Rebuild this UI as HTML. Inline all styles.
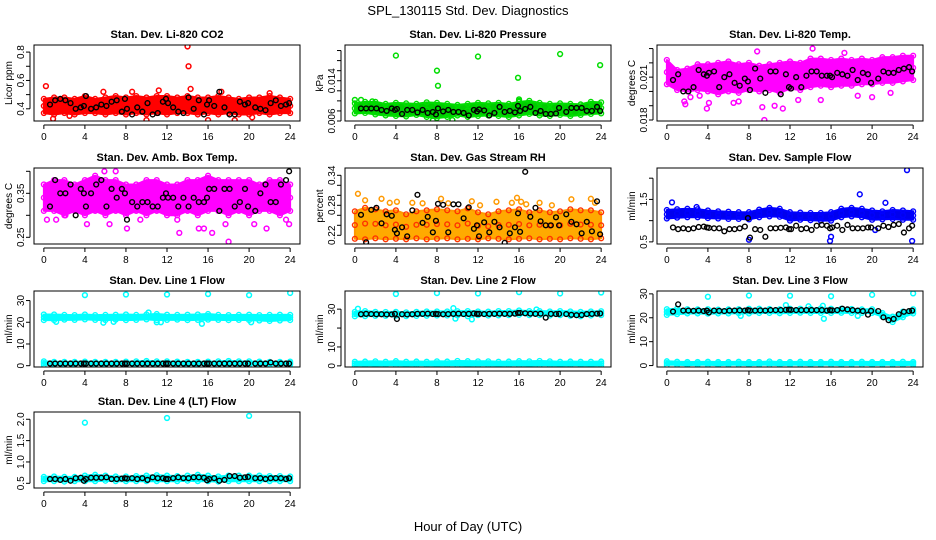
<!DOCTYPE html>
<html><head><meta charset="utf-8">
<style>
html,body{margin:0;padding:0;background:#fff;}
svg{display:block;font-family:"Liberation Sans",sans-serif;}
</style></head>
<body>
<svg id="chart" width="936" height="540" viewBox="0 0 936 540">
<text x="468" y="15" text-anchor="middle" font-size="13">SPL_130115  Std. Dev. Diagnostics</text>
<text x="468" y="531" text-anchor="middle" font-size="13">Hour of Day (UTC)</text>
</svg>
<script>
// ---- shared categories ----
const bandHours = [0,1,2,3,4,5,6,7,8,9,10,11,12,13,14,15,16,17,18,19,20,21,22,23,24];
const blackHours = [0.6,1.1,1.6,2.1,2.6,3.1,3.6,3.9,4.1,4.6,5.1,5.6,6.1,6.6,7.1,7.6,7.9,8.1,8.6,9.1,9.6,10.1,10.6,11.1,11.6,11.9,12.1,12.6,13.1,13.6,14.1,14.6,15.1,15.6,15.9,16.1,16.6,17.1,17.6,18.1,18.6,19.1,19.6,19.9,20.6,21.1,21.6,22.1,22.6,23.1,23.6,23.9];
const xTicks = [0,4,8,12,16,20,24];

// ---- P1 CO2 ----
const p1Lo = [0.37,0.36,0.37,0.36,0.37,0.37,0.36,0.37,0.36,0.37,0.36,0.37,0.36,0.37,0.37,0.36,0.37,0.36,0.37,0.36,0.36,0.37,0.36,0.37,0.37];
const p1Hi = [0.47,0.48,0.48,0.47,0.49,0.47,0.48,0.49,0.48,0.49,0.48,0.49,0.49,0.48,0.49,0.48,0.48,0.49,0.48,0.47,0.48,0.48,0.49,0.48,0.47];
const p1OutH = [0.2,0.9,14.0,14.1,14.3,11.2,8.6,16.0,18.6,10.0,5.8,17.3,22.0,2.5,20.3];
const p1OutV = [0.56,0.33,0.84,0.70,0.54,0.53,0.52,0.32,0.32,0.32,0.52,0.52,0.51,0.35,0.34];
const p1Black = [0.43,0.46,0.47,0.46,0.44,0.40,0.41,0.42,0.49,0.40,0.41,0.43,0.42,0.45,0.46,0.38,0.47,0.40,0.36,0.41,0.38,0.44,0.36,0.37,0.45,0.47,0.44,0.41,0.38,0.37,0.48,0.40,0.46,0.36,0.43,0.46,0.42,0.52,0.41,0.36,0.36,0.45,0.43,0.44,0.41,0.40,0.39,0.44,0.46,0.42,0.43,0.44];

// ---- P2 Pressure ----
const p2Lo = [0.0075,0.0076,0.0073,0.0071,0.0070,0.0069,0.0072,0.0068,0.0066,0.0068,0.0071,0.0068,0.0070,0.0071,0.0070,0.0068,0.0071,0.0074,0.0071,0.0070,0.0072,0.0070,0.0072,0.0074,0.0075];
const p2Hi = [0.0095,0.0098,0.0098,0.0094,0.0096,0.0095,0.0094,0.0097,0.0096,0.0094,0.0092,0.0094,0.0096,0.0095,0.0096,0.0094,0.0098,0.0100,0.0096,0.0094,0.0095,0.0094,0.0093,0.0098,0.0097];
const p2OutH = [0.0,0.6,4.0,8.0,8.1,12.0,15.9,16.0,20.0,23.9,7.6,9.5,16.0,1.7];
const p2OutV = [0.0102,0.0102,0.0190,0.0160,0.0130,0.0188,0.0146,0.0103,0.0193,0.0171,0.0061,0.0062,0.0100,0.0099];
const p2Black = [0.0085,0.0085,0.0085,0.0085,0.0082,0.0080,0.0085,0.0082,0.0084,0.0074,0.0082,0.0082,0.0077,0.0082,0.0076,0.0078,0.0073,0.0085,0.0079,0.0082,0.0078,0.0078,0.0076,0.0071,0.0082,0.0079,0.0083,0.0081,0.0071,0.0076,0.0088,0.0078,0.0080,0.0077,0.0090,0.0080,0.0084,0.0088,0.0076,0.0080,0.0074,0.0074,0.0075,0.0086,0.0078,0.0086,0.0086,0.0086,0.0080,0.0080,0.0088,0.0080];

// ---- P3 Li-820 Temp ----
const p3Lo = [0.0205,0.0201,0.0200,0.0201,0.0200,0.0198,0.0200,0.0199,0.0201,0.0200,0.0201,0.0199,0.0202,0.0201,0.0203,0.0204,0.0203,0.0204,0.0204,0.0205,0.0205,0.0206,0.0206,0.0207,0.0208];
const p3Hi = [0.0222,0.0215,0.0216,0.0219,0.0219,0.0220,0.0221,0.0219,0.0220,0.0218,0.0219,0.0220,0.0221,0.0220,0.0223,0.0223,0.0222,0.0223,0.0222,0.0223,0.0222,0.0224,0.0224,0.0225,0.0225];
const p3OutH = [1.7,1.8,3.9,4.1,7.0,9.5,9.3,11.3,8.8,14.2,17.3,2.3,6.5,10.5,12.8,18.6,21.8,20.0,3.2,15.0];
const p3OutV = [0.0193,0.0191,0.0188,0.0192,0.0193,0.0180,0.0189,0.0188,0.0228,0.0230,0.0227,0.0196,0.0192,0.0190,0.0194,0.0197,0.0199,0.0196,0.0197,0.0194];
const p3Black = [0.0208,0.0212,0.0200,0.0200,0.0203,0.0215,0.0212,0.0211,0.0213,0.0214,0.0203,0.0210,0.0212,0.0206,0.0204,0.0209,0.0207,0.0201,0.0216,0.0209,0.0199,0.0214,0.0214,0.0198,0.0212,0.0203,0.0202,0.0210,0.0203,0.0211,0.0214,0.0214,0.0211,0.0211,0.0211,0.0210,0.0213,0.0212,0.0211,0.0215,0.0208,0.0213,0.0212,0.0206,0.0209,0.0214,0.0213,0.0213,0.0215,0.0216,0.0217,0.0214];

// ---- P4 Amb Box Temp ----
const p4Lo = [0.31,0.31,0.30,0.31,0.30,0.31,0.30,0.31,0.30,0.31,0.30,0.31,0.30,0.30,0.31,0.30,0.31,0.31,0.30,0.31,0.30,0.31,0.31,0.30,0.31];
const p4Hi = [0.37,0.38,0.38,0.37,0.38,0.39,0.38,0.38,0.37,0.37,0.38,0.38,0.37,0.37,0.38,0.38,0.39,0.38,0.38,0.38,0.38,0.37,0.38,0.38,0.37];
const p4OutH = [0.3,1.2,2.1,4.2,6.4,8.1,9.4,13.2,15.1,15.6,16.4,18.0,17.7,20.5,21.7,23.6,23.9,5.9,7.0,13.0];
const p4OutV = [0.29,0.29,0.30,0.28,0.28,0.27,0.29,0.26,0.27,0.27,0.26,0.24,0.28,0.28,0.27,0.29,0.28,0.40,0.40,0.29];
const p4Black = [0.32,0.38,0.35,0.35,0.37,0.30,0.36,0.35,0.32,0.35,0.37,0.38,0.32,0.36,0.34,0.36,0.35,0.29,0.33,0.32,0.33,0.33,0.32,0.32,0.34,0.35,0.34,0.34,0.32,0.34,0.32,0.34,0.33,0.33,0.34,0.36,0.36,0.31,0.36,0.36,0.32,0.33,0.36,0.32,0.31,0.35,0.37,0.33,0.33,0.37,0.38,0.40];

// ---- P5 Gas Stream RH ----
const p5Lo = [0.213,0.212,0.214,0.212,0.213,0.212,0.214,0.212,0.213,0.214,0.212,0.213,0.212,0.214,0.213,0.212,0.213,0.214,0.212,0.213,0.212,0.214,0.213,0.212,0.214];
const p5Hi = [0.268,0.275,0.272,0.268,0.270,0.262,0.268,0.270,0.272,0.270,0.268,0.274,0.266,0.262,0.268,0.270,0.272,0.266,0.270,0.266,0.268,0.272,0.270,0.270,0.266];
const p5OutH = [0.3,1.0,2.6,3.4,4.1,5.6,6.6,8.4,9.1,11.4,12.2,13.8,15.3,15.8,16.2,16.7,18.0,19.2,21.1,23.0,23.4];
const p5OutV = [0.303,0.290,0.293,0.285,0.287,0.285,0.284,0.293,0.284,0.288,0.280,0.287,0.285,0.295,0.287,0.282,0.285,0.280,0.292,0.293,0.285];
const p5Black = [0.261,0.206,0.271,0.275,0.244,0.262,0.259,0.231,0.224,0.236,0.218,0.270,0.301,0.245,0.257,0.226,0.249,0.283,0.281,0.226,0.282,0.282,0.254,0.276,0.233,0.240,0.218,0.246,0.226,0.247,0.236,0.205,0.224,0.236,0.264,0.227,0.347,0.257,0.275,0.248,0.240,0.240,0.256,0.240,0.262,0.247,0.242,0.224,0.247,0.228,0.288,0.222];

// ---- P6 Sample Flow ----
const p6Lo = [1.05,1.07,1.08,1.08,1.06,1.05,1.04,1.04,1.03,1.08,1.10,1.09,1.00,1.02,1.01,1.00,1.00,1.08,1.10,1.08,1.02,1.03,1.04,1.02,1.02];
const p6Hi = [1.25,1.27,1.28,1.27,1.24,1.22,1.21,1.20,1.20,1.26,1.30,1.28,1.20,1.19,1.18,1.18,1.20,1.28,1.30,1.28,1.24,1.22,1.25,1.24,1.22];
const p6OutH = [0.5,8.0,15.9,18.8,23.4,23.9,21.3,16.0,20.3,2.9];
const p6OutV = [1.43,0.55,0.52,1.62,2.19,0.52,1.42,0.62,0.78,1.32];
const p6Black = [0.84,0.80,0.82,0.80,0.82,0.85,0.86,0.84,0.83,0.82,0.82,0.75,0.80,0.80,0.82,0.86,1.06,0.60,0.80,0.78,0.62,0.82,0.82,0.83,0.84,0.80,0.80,0.88,0.80,0.82,0.78,0.88,0.90,0.88,0.82,0.84,0.88,0.78,0.90,0.82,0.82,0.82,0.84,0.84,0.82,0.88,0.85,0.90,0.92,0.72,0.82,0.88];

// ---- P7 Line 1 Flow ----
const p7Lo = [21.0,21.0,21.2,21.1,21.3,21.1,21.0,21.2,21.0,21.1,21.3,21.0,21.1,21.2,21.0,21.1,21.2,21.1,21.0,21.1,21.0,20.8,20.6,20.8,21.0];
const p7Hi = [23.6,23.6,23.4,23.3,23.6,23.3,23.4,23.5,23.6,23.4,23.6,23.8,23.5,23.4,23.5,23.6,23.8,23.4,23.3,23.4,23.5,23.3,23.4,23.5,23.4];
const p7Lo2 = [0.4,0.5,0.4,0.5,0.5,0.4,0.5,0.5,0.4,0.5,0.5,0.4,0.5,0.5,0.4,0.5,0.5,0.4,0.5,0.5,0.4,0.5,0.5,0.4,0.5];
const p7Hi2 = [2.0,1.8,1.8,1.8,1.9,1.8,1.8,1.8,1.9,2.0,2.2,2.0,2.0,1.9,1.8,1.8,1.9,2.0,2.2,2.0,2.0,1.9,1.8,1.8,1.9];
const p7OutH = [4.0,8.0,12.0,16.0,20.0,24.0,1.2,5.8,6.8,11.0,11.4,15.4,10.2,20.2];
const p7OutV = [32.5,32.8,32.8,33.0,32.5,33.5,20.2,19.8,20.2,20.0,20.0,19.3,24.5,20.0];
const p7Black = [1.0,1.0,1.0,1.0,1.0,1.0,1.0,1.0,1.0,1.0,1.0,1.0,1.0,1.0,1.0,1.0,1.0,1.0,1.0,1.0,1.0,1.0,1.0,1.0,1.0,1.0,1.0,1.0,1.0,1.0,1.0,1.0,1.0,1.0,1.0,1.0,1.0,1.0,1.0,1.0,1.0,1.0,1.0,1.0,1.0,1.0,1.0,1.5,1.0,1.0,1.0,1.0];

// ---- P8 Line 2 Flow ----
const p8Lo = [26.2,26.3,26.4,26.4,26.5,26.3,26.4,26.5,26.6,26.6,26.7,26.2,26.8,26.6,26.7,26.8,27.0,26.8,26.8,26.6,26.8,26.5,26.2,26.6,26.8];
const p8Hi = [28.6,29.0,28.6,28.5,28.6,28.3,28.6,28.8,28.8,28.8,28.9,29.0,28.8,28.7,29.0,29.0,29.3,29.0,29.0,28.8,29.0,28.8,28.6,28.8,28.9];
const p8Lo2 = [0.2,0.3,0.2,0.3,0.3,0.2,0.3,0.3,0.2,0.3,0.3,0.2,0.3,0.3,0.2,0.3,0.3,0.2,0.3,0.3,0.2,0.3,0.3,0.2,0.3];
const p8Hi2 = [2.2,2.3,2.4,2.2,2.5,2.2,2.3,2.2,2.4,2.3,2.6,2.5,2.4,2.4,2.2,2.3,2.5,2.4,2.6,2.4,2.2,2.3,2.2,2.2,2.3];
const p8OutH = [4.0,8.0,12.0,16.0,20.0,24.0,0.3,9.6,9.8,11.4,17.7];
const p8OutV = [38.0,38.5,38.3,39.0,38.3,38.8,30.2,30.5,25.0,24.6,29.8];
const p8Black = [27.3,27.5,27.4,27.3,27.3,27.2,27.2,27.5,24.8,27.3,27.2,27.3,27.5,27.5,27.6,27.4,27.5,27.4,27.3,27.4,27.5,27.6,27.4,27.5,27.7,27.5,27.5,27.4,27.5,27.5,27.6,27.5,27.5,27.6,28.0,28.0,27.8,27.6,27.5,27.6,25.5,27.5,27.4,27.5,27.4,27.0,26.8,26.9,27.4,27.5,27.6,27.7];

// ---- P9 Line 3 Flow ----
const p9Lo = [21.2,21.5,21.8,21.8,21.7,21.8,21.8,21.9,21.8,22.0,22.0,21.9,22.0,22.1,22.0,22.0,22.0,22.1,22.0,22.0,22.0,20.5,18.2,20.2,21.8];
const p9Hi = [23.6,23.8,23.6,23.5,23.6,23.4,23.5,23.6,23.8,23.8,23.7,23.6,23.8,23.8,23.8,23.9,23.8,23.8,23.7,23.5,23.6,22.0,20.5,22.6,23.6];
const p9Lo2 = [0.3,0.3,0.2,0.3,0.3,0.2,0.3,0.3,0.2,0.3,0.3,0.2,0.3,0.3,0.2,0.3,0.3,0.2,0.3,0.3,0.2,0.3,0.3,0.2,0.3];
const p9Hi2 = [1.8,1.6,1.5,1.5,1.6,1.5,1.5,1.6,1.5,1.5,1.7,1.5,1.5,1.6,1.5,1.5,1.6,1.5,1.5,1.6,1.5,1.5,1.5,1.6,1.5];
const p9OutH = [4.0,8.0,12.0,16.0,20.0,24.0,7.2,11.6,15.2,15.3,18.6,13.8];
const p9OutV = [28.8,29.3,29.2,29.0,29.6,30.2,20.8,25.3,25.0,19.6,20.8,24.8];
const p9Black = [22.6,25.6,23.0,23.0,22.9,23.0,22.8,23.0,22.2,23.0,22.9,22.8,23.0,23.0,23.1,23.0,23.2,23.0,23.0,23.1,23.0,23.2,23.2,23.2,23.3,23.4,23.3,23.2,23.2,23.2,23.2,23.2,23.2,23.0,23.2,23.1,23.2,23.8,23.5,23.2,23.0,22.8,21.3,22.9,22.8,20.2,19.0,19.5,21.5,22.5,22.8,23.0];

// ---- P10 Line 4 (LT) Flow ----
const p10Lo = [0.55,0.55,0.54,0.55,0.55,0.55,0.56,0.55,0.55,0.55,0.55,0.55,0.55,0.55,0.56,0.55,0.55,0.54,0.55,0.55,0.55,0.55,0.55,0.55,0.55];
const p10Hi = [0.65,0.66,0.65,0.65,0.68,0.70,0.68,0.66,0.66,0.67,0.68,0.69,0.68,0.67,0.68,0.70,0.68,0.66,0.68,0.68,0.68,0.68,0.67,0.67,0.66];
const p10OutH = [4.0,12.0,20.0];
const p10OutV = [1.92,2.03,2.08];
const p10Black = [0.60,0.60,0.58,0.60,0.56,0.62,0.63,0.56,0.60,0.63,0.63,0.63,0.64,0.60,0.60,0.61,0.62,0.61,0.62,0.60,0.62,0.58,0.64,0.62,0.62,0.60,0.60,0.62,0.64,0.62,0.62,0.64,0.64,0.63,0.57,0.60,0.62,0.56,0.58,0.67,0.67,0.63,0.64,0.65,0.62,0.62,0.60,0.62,0.62,0.62,0.60,0.62];

const cols = [34,345,657], colW = 266;
const rows = [45,168,291,412], rowH = 76;
const panels = [
 {key:'co2',title:'Stan. Dev. Li-820 CO2',ylab:'Licor ppm',c:0,r:0,y0:0.314,y1:0.85,ticks:[0.4,0.5,0.6,0.7,0.8],lab:{0.4:'0.4',0.6:'0.6',0.8:'0.8'},col:'#ff0000',fill:'#ff0000',dot:'#ff0000',lo:p1Lo,hi:p1Hi,oh:p1OutH,ov:p1OutV,bk:p1Black},
 {key:'pressure',title:'Stan. Dev. Li-820 Pressure',ylab:'kPa',c:1,r:0,y0:0.006,y1:0.0211,ticks:[0.006,0.008,0.010,0.012,0.014,0.016,0.018,0.020],lab:{0.006:'0.006',0.014:'0.014'},col:'#00dd00',fill:'#00cc00',dot:'#00dd00',lo:p2Lo,hi:p2Hi,oh:p2OutH,ov:p2OutV,bk:p2Black},
 {key:'temp',title:'Stan. Dev. Li-820 Temp.',ylab:'degrees C',c:2,r:0,y0:0.01793,y1:0.02325,ticks:[0.018,0.019,0.020,0.021,0.022,0.023],lab:{0.018:'0.018',0.021:'0.021'},col:'#ff00ff',fill:'#ff00ff',dot:'#ff00ff',lo:p3Lo,hi:p3Hi,oh:p3OutH,ov:p3OutV,bk:p3Black},
 {key:'ambbox',title:'Stan. Dev. Amb. Box Temp.',ylab:'degrees C',c:0,r:1,y0:0.2348,y1:0.4075,ticks:[0.25,0.30,0.35,0.40],lab:{0.25:'0.25',0.35:'0.35'},col:'#ff00ff',fill:'#ff00ff',dot:'#ff00ff',lo:p4Lo,hi:p4Hi,oh:p4OutH,ov:p4OutV,bk:p4Black},
 {key:'rh',title:'Stan. Dev. Gas Stream RH',ylab:'percent',c:1,r:1,y0:0.2026,y1:0.3546,ticks:[0.22,0.24,0.26,0.28,0.30,0.32,0.34],lab:{0.22:'0.22',0.28:'0.28',0.34:'0.34'},col:'#ff9900',fill:'#ffaa00',dot:'#ff3300',lo:p5Lo,hi:p5Hi,oh:p5OutH,ov:p5OutV,bk:p5Black},
 {key:'sampleflow',title:'Stan. Dev. Sample Flow',ylab:'ml/min',c:2,r:1,y0:0.45,y1:2.24,ticks:[0.5,1.0,1.5,2.0],lab:{0.5:'0.5',1.5:'1.5'},col:'#0000ff',fill:'#0000ee',dot:'#0000ff',lo:p6Lo,hi:p6Hi,oh:p6OutH,ov:p6OutV,bk:p6Black},
 {key:'line1',title:'Stan. Dev. Line 1 Flow',ylab:'ml/min',c:0,r:2,y0:-0.6,y1:34.4,ticks:[0,10,20,30],lab:{0:'0',10:'10',20:'20',30:'30'},col:'#00ffff',fill:'#00ffff',dot:'#00ffff',lo:p7Lo,hi:p7Hi,lo2:p7Lo2,hi2:p7Hi2,oh:p7OutH,ov:p7OutV,bk:p7Black},
 {key:'line2',title:'Stan. Dev. Line 2 Flow',ylab:'ml/min',c:1,r:2,y0:-0.6,y1:39.6,ticks:[0,10,20,30],lab:{0:'0',10:'10',30:'30'},col:'#00ffff',fill:'#00ffff',dot:'#00ffff',lo:p8Lo,hi:p8Hi,lo2:p8Lo2,hi2:p8Hi2,oh:p8OutH,ov:p8OutV,bk:p8Black},
 {key:'line3',title:'Stan. Dev. Line 3 Flow',ylab:'ml/min',c:2,r:2,y0:-0.6,y1:31.2,ticks:[0,10,20,30],lab:{0:'0',10:'10',20:'20',30:'30'},col:'#00ffff',fill:'#00ffff',dot:'#00ffff',lo:p9Lo,hi:p9Hi,lo2:p9Lo2,hi2:p9Hi2,oh:p9OutH,ov:p9OutV,bk:p9Black},
 {key:'line4',title:'Stan. Dev. Line 4 (LT) Flow',ylab:'ml/min',c:0,r:3,y0:0.39,y1:2.17,ticks:[0.5,1.0,1.5,2.0],lab:{0.5:'0.5',1:'1.0',1.5:'1.5',2:'2.0'},col:'#00ffff',fill:'#00ffff',dot:'#00ffff',lo:p10Lo,hi:p10Hi,oh:p10OutH,ov:p10OutV,bk:p10Black}
];

const NS='http://www.w3.org/2000/svg';
const svg=document.getElementById('chart');
function mk(tag,attrs,parent){const e=document.createElementNS(NS,tag);for(const k in attrs)e.setAttribute(k,attrs[k]);(parent||svg).appendChild(e);return e;}

panels.forEach(p=>{
  const L=cols[p.c], T=rows[p.r], R=L+colW, B=T+rowH;
  const xs=h=>L+(h+0.96)/25.92*colW;
  const ys=v=>B-(v-p.y0)/(p.y1-p.y0)*rowH;
  const g=mk('g',{});
  
  
  const clip=mk('clipPath',{id:'clip-'+p.key},g);
  mk('rect',{x:L,y:T,width:colW,height:rowH},clip);
  const t=mk('text',{x:(L+R)/2,y:T-7,'text-anchor':'middle','font-size':11,'font-weight':'bold'},g);
  t.textContent=p.title;
  
  
  const yl=mk('text',{x:0,y:0,'text-anchor':'middle','font-size':10,transform:`translate(${L-22},${(T+B)/2}) rotate(-90)`},g);
  yl.textContent=p.ylab;
  
  
  const plot=mk('g',{'clip-path':`url(#clip-${p.key})`},g);
  
  
  const drawBand=(lo,hi,name)=>{
    let d='M'+bandHours.map((h,i)=>xs(h).toFixed(1)+','+ys(hi[i]).toFixed(1)).join(' L');
    d+=' L'+bandHours.slice().reverse().map((h,j)=>{const i=bandHours.length-1-j;return xs(h).toFixed(1)+','+ys(lo[i]).toFixed(1);}).join(' L')+'Z';
    const band=mk('path',{d:d,fill:p.fill,stroke:p.col,'stroke-width':2,'stroke-linejoin':'round'},plot);
    
    
    bandHours.forEach((h,i)=>{
      [lo[i],hi[i],(lo[i]+hi[i])/2].forEach(v=>{
        const c=mk('circle',{cx:xs(h),cy:ys(v),r:2.4,fill:'none',stroke:p.dot,'stroke-width':1.4},plot);
        
        
      });
    });
  };
  drawBand(p.lo,p.hi,'data-band');
  if(p.lo2) drawBand(p.lo2,p.hi2,'data-band-low');
  p.oh.forEach((h,i)=>{
    const c=mk('circle',{cx:xs(h),cy:ys(p.ov[i]),r:2.4,fill:'none',stroke:p.col,'stroke-width':1.5},plot);
    
    
  });
  p.bk.forEach((v,i)=>{
    const c=mk('circle',{cx:xs(blackHours[i]),cy:ys(v),r:2.4,fill:'none',stroke:'#000','stroke-width':1.4},plot);
    
    
  });
  const box=mk('rect',{x:L,y:T,width:colW,height:rowH,fill:'none',stroke:'#000','stroke-width':1},g);
  
  
  const ya=mk('g',{},g);
  
  
  const yt0=ys(p.ticks[0]), yt1=ys(p.ticks[p.ticks.length-1]);
  mk('line',{x1:L-4,x2:L-4,y1:yt0,y2:yt1,stroke:'#000'},ya);
  p.ticks.forEach(v=>{
    mk('line',{x1:L-4,x2:L-8,y1:ys(v),y2:ys(v),stroke:'#000'},ya);
    if(p.lab[v]!==undefined){
      const tl=mk('text',{x:0,y:0,'text-anchor':'middle','font-size':10,transform:`translate(${L-10},${ys(v)}) rotate(-90)`},ya);
      tl.textContent=p.lab[v];
      
      
    }
  });
  const xa=mk('g',{},g);
  
  
  mk('line',{x1:xs(0),x2:xs(24),y1:B+4,y2:B+4,stroke:'#000'},xa);
  xTicks.forEach(h=>{
    mk('line',{x1:xs(h),x2:xs(h),y1:B+4,y2:B+8,stroke:'#000'},xa);
    const xl=mk('text',{x:xs(h),y:B+19,'text-anchor':'middle','font-size':10},xa);
    xl.textContent=h;
    
    
  });
});
</script>
</body></html>
